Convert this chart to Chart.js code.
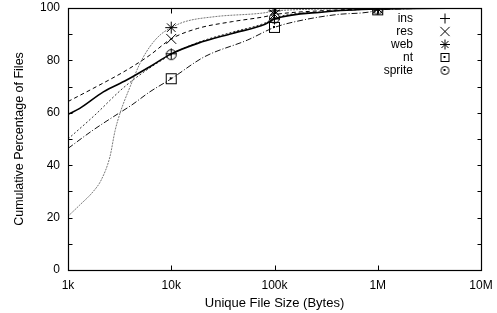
<!DOCTYPE html>
<html>
<head>
<meta charset="utf-8">
<script src="https://cdn.jsdelivr.net/npm/chart.js@4/dist/chart.umd.min.js"></script>
<style>
  html, body { margin: 0; padding: 0; background: #fff; }
  #wrap { width: 497px; height: 313px; }
</style>
</head>
<body>
<div id="wrap"><canvas id="chart" width="497" height="313"></canvas></div>
<script>
// Sizes in bytes, values in cumulative %
const insSizes = [1000, 1300, 2200, 3700, 6200, 10000, 18000, 39000, 81000, 100000, 300000, 1000000, 10000000];
const insPct = [59.4, 61.7, 68, 72.5, 77.6, 82.5, 86.5, 90.3, 93.8, 95.8, 98.5, 99.6, 100];

const resSizes = [1000, 1750, 3700, 6200, 10000, 18000, 39000, 81000, 100000, 300000, 1000000, 10000000];
const resPct = [64.3, 69.3, 76.3, 82, 88.2, 92.2, 94.8, 96.7, 97.5, 99, 99.7, 100];

const webSizes = [1000, 1300, 1750, 2100, 2550, 2850, 3200, 4000, 5000, 6200, 7800, 10000, 13600, 26500, 81000, 100000, 1000000, 10000000];
const webPct = [20.5, 24.8, 29.9, 34.4, 43.3, 53, 60, 70, 79, 85.2, 89.7, 92.5, 94.8, 96.7, 98.2, 98.9, 99.8, 100];

const ntSizes = [1000, 1750, 2750, 4150, 6200, 10000, 21000, 55000, 100000, 188000, 402000, 838000, 1000000, 10000000];
const ntPct = [46.4, 53.4, 58.5, 63, 68, 73, 81.4, 87.8, 92.6, 95.4, 97.5, 98.5, 99.3, 100];

const spriteSizes = [1000, 1750, 3700, 10000, 18000, 39000, 81000, 100000, 300000, 1000000, 10000000];
const spritePct = [50, 58.5, 70.6, 82.2, 86.8, 90.8, 94.3, 96.2, 98.6, 99.6, 100];

// points are only marked at these sizes
const markerSizes = [10000, 100000, 1000000];

const xTickValues = [1000, 10000, 100000, 1000000, 10000000];
const xTickLabels = ['1k', '10k', '100k', '1M', '10M'];

const FONT = "'Liberation Sans', Arial, sans-serif";

// square / circle with a dot in the middle (gnuplot style)
function makeMarker(shape, size) {
    const c = document.createElement('canvas');
    c.width = size;
    c.height = size;
    const g = c.getContext('2d');
    const m = size / 2;
    g.strokeStyle = '#000';
    g.fillStyle = '#000';
    g.lineWidth = 1;
    if (shape === 'box') {
        g.strokeRect(1.5, 1.5, size - 3, size - 3);
    } else {
        g.beginPath();
        g.arc(m, m, m - 1.5, 0, Math.PI * 2);
        g.stroke();
    }
    g.fillRect(Math.floor(m) - 1, Math.floor(m) - 1, 2, 2);
    return c;
}

function toPoints(sizes, pct) {
    return sizes.map((x, i) => ({ x: x, y: pct[i] }));
}

function series(label, sizes, pct, color, dash, width, style, radius, legendStyle) {
    return {
        label: label,
        data: toPoints(sizes, pct),
        borderColor: color,
        borderWidth: width,
        borderDash: dash,
        pointStyle: style,
        legendStyle: legendStyle || style,
        pointBorderColor: '#000',
        pointBackgroundColor: 'rgba(0,0,0,0)',
        pointBorderWidth: 1,
        pointRadius: ctx => (ctx.raw && markerSizes.includes(ctx.raw.x) ? radius : 0),
        cubicInterpolationMode: 'monotone',
        fill: false,
    };
}

const datasets = [
    series('ins', insSizes, insPct, '#000', [], 1.6, 'cross', 5.5),
    series('res', resSizes, resPct, '#000', [4, 3], 1, 'crossRot', 7),
    series('web', webSizes, webPct, '#777', [2, 1], 1, 'star', 6),
    series('nt', ntSizes, ntPct, '#111', [6, 2, 1, 2], 1, makeMarker('box', 13), 6, makeMarker('box', 11)),
    series('sprite', spriteSizes, spritePct, '#333', [2, 2], 1, makeMarker('circle', 13), 6, makeMarker('circle', 11)),
];

// frame with inward ticks on all four sides + legend in top right
const framePlugin = {
    id: 'frame',
    afterDraw(chart) {
        const ctx = chart.ctx;
        const a = chart.chartArea;
        const xs = chart.scales.x;
        const ys = chart.scales.y;
        const L = Math.round(a.left) + 0.5, R = Math.round(a.right) + 0.5;
        const T = Math.round(a.top) + 0.5, B = Math.round(a.bottom) + 0.5;
        ctx.save();
        ctx.strokeStyle = '#000';
        ctx.lineWidth = 1.2;
        ctx.strokeRect(L, T, R - L, B - T);
        ctx.lineWidth = 1;
        ctx.beginPath();
        xs.ticks.forEach(t => {
            const px = Math.round(xs.getPixelForValue(t.value)) + 0.5;
            ctx.moveTo(px, B); ctx.lineTo(px, B - 5);
            ctx.moveTo(px, T); ctx.lineTo(px, T + 5);
        });
        ys.ticks.forEach(t => {
            const py = Math.round(ys.getPixelForValue(t.value)) + 0.5;
            ctx.moveTo(L, py); ctx.lineTo(L + 4, py);
            ctx.moveTo(R, py); ctx.lineTo(R - 4, py);
        });
        ctx.stroke();

        // legend
        ctx.font = '12px ' + FONT;
        ctx.fillStyle = '#000';
        ctx.textAlign = 'right';
        ctx.textBaseline = 'middle';
        const textRight = a.right - 68;
        const markX = a.right - 36;
        chart.data.datasets.forEach((ds, i) => {
            const y = a.top + 10.5 + i * 13;
            ctx.fillText(ds.label, textRight, y);
            ctx.strokeStyle = '#000';
            ctx.lineWidth = 1;
            const r = ds.legendStyle === 'crossRot' ? 6.5 : 5;
            Chart.helpers.drawPoint(ctx, { pointStyle: ds.legendStyle, radius: r, rotation: 0, borderWidth: 1 }, markX, y);
        });
        ctx.restore();
    },
};

new Chart(document.getElementById('chart'), {
    type: 'line',
    data: { datasets: datasets },
    options: {
        responsive: false,
        animation: false,
        events: [],
        layout: { padding: { top: 8, right: 16, left: 0, bottom: 0 } },
        plugins: { legend: { display: false }, tooltip: { enabled: false } },
        scales: {
            x: {
                type: 'logarithmic',
                min: 1000,
                max: 10000000,
                afterBuildTicks: scale => {
                    scale.ticks = xTickValues.map(v => ({ value: v }));
                },
                afterFit: scale => {
                    scale.height = 43;
                    scale.paddingLeft = 0;
                    scale.paddingRight = 0;
                },
                grid: { display: false, drawTicks: false },
                border: { display: false },
                ticks: {
                    color: '#000',
                    font: { family: FONT, size: 12 },
                    padding: 8,
                    maxRotation: 0,
                    autoSkip: false,
                    callback: value => xTickLabels[xTickValues.indexOf(value)],
                },
                title: {
                    display: true,
                    text: 'Unique File Size (Bytes)',
                    color: '#000',
                    font: { family: FONT, size: 13 },
                    padding: { top: 1, bottom: 2 },
                },
            },
            y: {
                min: 0,
                max: 100,
                afterFit: scale => {
                    scale.width = 68;
                    scale.paddingTop = 0;
                    scale.paddingBottom = 0;
                },
                grid: { display: false, drawTicks: false },
                border: { display: false },
                ticks: {
                    stepSize: 10,
                    color: '#000',
                    font: { family: FONT, size: 12 },
                    padding: 8,
                    autoSkip: false,
                    callback: value => (value % 20 === 0 ? value : ''),
                },
                title: {
                    display: true,
                    text: 'Cumulative Percentage of Files',
                    color: '#000',
                    font: { family: FONT, size: 12.5 },
                    padding: { top: 12, bottom: 0 },
                },
            },
        },
    },
    plugins: [framePlugin],
});
</script>
</body>
</html>
